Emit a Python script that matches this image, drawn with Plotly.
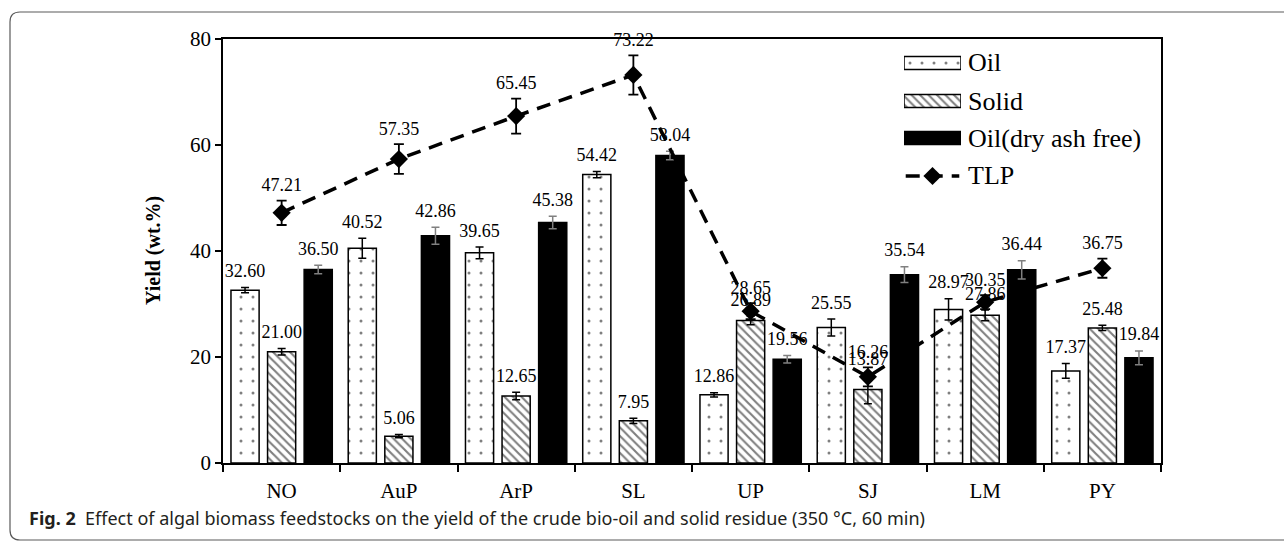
import plotly.graph_objects as go

categories = ["NO", "AuP", "ArP", "SL", "UP", "SJ", "LM", "PY"]
oil = [32.60, 40.52, 39.65, 54.42, 12.86, 25.55, 28.97, 17.37]
oil_err = [0.5, 1.9, 1.1, 0.6, 0.4, 1.6, 2.0, 1.4]
solid = [21.00, 5.06, 12.65, 7.95, 26.89, 13.87, 27.86, 25.48]
solid_err = [0.6, 0.3, 0.7, 0.5, 0.8, 2.7, 1.0, 0.5]
daf = [36.50, 42.86, 45.38, 58.04, 19.56, 35.54, 36.44, 19.84]
daf_err = [0.8, 1.6, 1.2, 0.8, 0.7, 1.5, 1.7, 1.3]
tlp = [47.21, 57.35, 65.45, 73.22, 28.65, 16.26, 30.35, 36.75]
tlp_err = [2.3, 2.8, 3.3, 3.7, 1.5, 1.8, 1.3, 1.8]
series_names = ["Oil", "Solid", "Oil(dry ash free)", "TLP"]

SERIF = "Liberation Serif"
idx = list(range(len(categories)))
OFF = 0.312
BW = 0.24
x_oil = [i - OFF for i in idx]
x_sol = [i for i in idx]
x_daf = [i + OFF for i in idx]

OUTLINE = dict(color="black", width=1.5)
OIL_MARKER = dict(color="white", line=OUTLINE,
                  pattern=dict(shape=".", fgcolor="black", bgcolor="white", size=12, solidity=0.05))
SOLID_MARKER = dict(color="white", line=OUTLINE,
                    pattern=dict(shape="\\", fgcolor="black", bgcolor="white", size=6, solidity=0.35))
DAF_MARKER = dict(color="black", line=OUTLINE)
TLP_LINE = dict(color="black", width=3.5, dash="14px,9px")

fig = go.Figure()

fig.add_trace(go.Bar(
    x=x_oil, y=oil, width=BW, name=series_names[0], marker=OIL_MARKER, showlegend=False,
    error_y=dict(type="data", array=oil_err, color="black", thickness=1.5, width=4),
))
fig.add_trace(go.Bar(
    x=x_sol, y=solid, width=BW, name=series_names[1], marker=SOLID_MARKER, showlegend=False,
    error_y=dict(type="data", array=solid_err, color="black", thickness=1.5, width=4),
))
fig.add_trace(go.Bar(
    x=x_daf, y=daf, width=BW, name=series_names[2], marker=DAF_MARKER, showlegend=False,
    error_y=dict(type="data", array=daf_err, color="#808080", thickness=1.5, width=4),
))
fig.add_trace(go.Scatter(
    x=x_sol, y=tlp, name=series_names[3], mode="lines+markers", showlegend=False,
    line=TLP_LINE,
    marker=dict(symbol="diamond", size=14, color="black"),
    error_y=dict(type="data", array=tlp_err, color="black", thickness=1.8, width=5),
))

def labels(xs, ys, errs, pad):
    fig.add_trace(go.Scatter(
        x=xs, y=[v + e for v, e in zip(ys, errs)], mode="markers+text",
        marker=dict(size=pad, color="rgba(0,0,0,0)"),
        text=[f"{v:.2f}" for v in ys], textposition="top center",
        textfont=dict(family=SERIF, size=18, color="black"),
        cliponaxis=False, showlegend=False, hoverinfo="skip",
    ))

labels(x_oil, oil, oil_err, 8)
labels(x_sol, solid, solid_err, 8)
labels(x_daf, daf, daf_err, 8)
labels(x_sol, tlp, tlp_err, 6)

# plot area in page pixels: x 223..1161, y 39..463
L, R, T, B = 223, 1161, 39, 463
W, H = R - L, B - T

def px(x):
    return (x - L) / W

def py(y):
    return (B - y) / H

# ---- legend drawn as swatches on a small hidden axis pair ----
LEG_TOP, LEG_BOT = 45, 195
rows = [63, 101, 138, 176]
fig.add_trace(go.Bar(
    x=[1], y=[rows[0]], base=0, orientation="h", width=13, marker=OIL_MARKER,
    xaxis="x2", yaxis="y2", showlegend=False, hoverinfo="skip"))
fig.add_trace(go.Bar(
    x=[1], y=[rows[1]], base=0, orientation="h", width=13, marker=SOLID_MARKER,
    xaxis="x2", yaxis="y2", showlegend=False, hoverinfo="skip"))
fig.add_trace(go.Bar(
    x=[1], y=[rows[2]], base=0, orientation="h", width=13, marker=DAF_MARKER,
    xaxis="x2", yaxis="y2", showlegend=False, hoverinfo="skip"))
fig.add_trace(go.Scatter(
    x=[0.03, 0.97], y=[rows[3]] * 2, mode="lines",
    line=dict(color="black", width=3.5, dash="14px,9px"),
    xaxis="x2", yaxis="y2", showlegend=False, hoverinfo="skip"))
fig.add_trace(go.Scatter(
    x=[0.5], y=[rows[3]], mode="markers",
    marker=dict(symbol="diamond", size=14, color="black"),
    xaxis="x2", yaxis="y2", showlegend=False, hoverinfo="skip"))
for name, r in zip(series_names, rows):
    fig.add_annotation(
        x=px(966), y=py(r), xref="paper", yref="paper", text=name,
        showarrow=False, xanchor="left", yanchor="middle",
        font=dict(family=SERIF, size=26, color="black"),
    )

# ---- outer rounded frame ----
x0, x1, y0, y1 = px(10), px(1300), py(540), py(12)
rx, ry = 10 / W, 10 / H
path = (f"M {x1},{y1} L {x0+rx},{y1} Q {x0},{y1} {x0},{y1-ry} "
        f"L {x0},{y0+ry} Q {x0},{y0} {x0+rx},{y0} L {x1},{y0}")
fig.add_shape(type="path", path=path, xref="paper", yref="paper",
              line=dict(color="#5a5a5a", width=1.2))

fig.add_annotation(
    x=px(153), y=0.5, xref="paper", yref="paper", text="<b>Yield (wt.%)</b>",
    textangle=-90, showarrow=False, xanchor="center", yanchor="middle",
    font=dict(family=SERIF, size=20, color="black"),
)
fig.add_annotation(
    x=px(27), y=py(518), xref="paper", yref="paper",
    text="<b>Fig. 2</b>  Effect of algal biomass feedstocks on the yield of the crude bio-oil and solid residue (350 °C, 60 min)",
    showarrow=False, xanchor="left", yanchor="middle",
    font=dict(family="Noto Sans", size=18, color="#231f20"),
)

fig.update_layout(
    width=1284, height=542,
    margin=dict(l=L, r=1284 - R, t=T, b=542 - B),
    paper_bgcolor="white", plot_bgcolor="white",
    barmode="overlay",
    font=dict(family=SERIF, color="black"),
    showlegend=False,
    xaxis=dict(
        range=[-0.5, len(categories) - 0.5],
        tickmode="array", tickvals=idx, ticktext=categories, ticks="",
        tickfont=dict(family=SERIF, size=21, color="black"),
        ticklabelstandoff=8,
        minor=dict(tickmode="array", tickvals=[i - 0.5 for i in range(len(categories) + 1)],
                   ticks="outside", ticklen=7, tickwidth=1.5, tickcolor="black"),
        showline=True, linecolor="black", linewidth=1.5, mirror=True,
        showgrid=False, zeroline=False,
    ),
    yaxis=dict(
        range=[0, 80], dtick=20, ticks="outside", ticklen=6, tickwidth=1.5, tickcolor="black",
        tickfont=dict(family=SERIF, size=21, color="black"),
        showline=True, linecolor="black", linewidth=1.5, mirror=True,
        showgrid=False, zeroline=False,
    ),
    xaxis2=dict(domain=[px(904), px(961)], range=[0, 1], anchor="y2", visible=False, fixedrange=True),
    yaxis2=dict(domain=[py(LEG_BOT), py(LEG_TOP)], range=[LEG_BOT, LEG_TOP], anchor="x2",
                visible=False, fixedrange=True),
)

fig.write_html("out.html")
